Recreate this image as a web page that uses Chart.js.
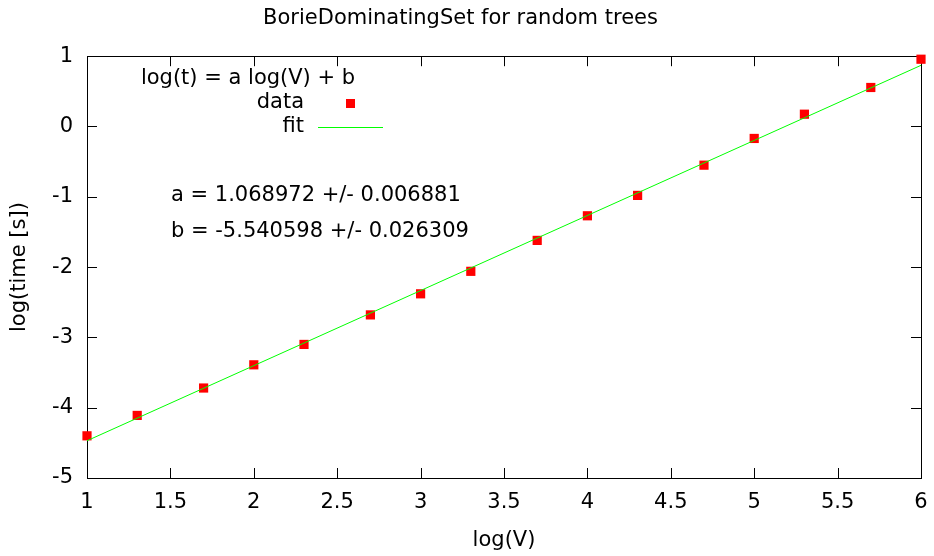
<!DOCTYPE html>
<html>
<head>
<meta charset="utf-8">
<script src="https://cdn.jsdelivr.net/npm/chart.js@4/dist/chart.umd.min.js"></script>
<style>
  body { margin: 0; background: #fff; }
  #wrap { width: 934px; height: 556px; }
</style>
</head>
<body>
<div id="wrap"><canvas id="chart" width="934" height="556"></canvas></div>
<script>
const logV = [1, 1.301, 1.699, 2, 2.301, 2.699, 3, 3.301, 3.699, 4, 4.301, 4.699, 5, 5.301, 5.699, 6];
const logT = [-4.40, -4.11, -3.72, -3.39, -3.10, -2.68, -2.38, -2.06, -1.62, -1.27, -0.98, -0.55, -0.17, 0.175, 0.555, 0.957];
const fitX = [1, 6];
const fitY = [-4.47, 0.87];
const fitText = ['a = 1.068972 +/- 0.006881', 'b = -5.540598 +/- 0.026309'];

const FONT = '"DejaVu Sans", sans-serif';
const FS = 21;

// gnuplot-like frame with inward ticks on all sides
const framePlugin = {
  id: 'frame',
  beforeDatasetsDraw(chart) {
    const { ctx, chartArea: a, scales: { x, y } } = chart;
    ctx.save();
    ctx.strokeStyle = '#000';
    ctx.lineWidth = 1;
    ctx.beginPath();
    x.ticks.forEach(t => {
      const px = Math.round(x.getPixelForValue(t.value)) + 0.5;
      ctx.moveTo(px, a.bottom); ctx.lineTo(px, a.bottom - 10);
      ctx.moveTo(px, a.top); ctx.lineTo(px, a.top + 10);
    });
    y.ticks.forEach(t => {
      const py = Math.round(y.getPixelForValue(t.value)) + 0.5;
      ctx.moveTo(a.left, py); ctx.lineTo(a.left + 10, py);
      ctx.moveTo(a.right, py); ctx.lineTo(a.right - 10, py);
    });
    ctx.stroke();
    ctx.strokeRect(Math.round(a.left) + 0.5, Math.round(a.top) + 0.5,
      Math.round(a.right - a.left), Math.round(a.bottom - a.top));
    ctx.restore();
  },
  afterDraw(chart) {
    const { ctx } = chart;
    ctx.save();
    ctx.font = FS + 'px ' + FONT;
    ctx.fillStyle = '#000';
    ctx.textBaseline = 'middle';
    ctx.textAlign = 'center';
    ctx.fillText('log(t) = a log(V) + b', 248, 79);
    ctx.textAlign = 'right';
    ctx.fillText('data', 304, 103);
    ctx.fillText('fit', 304, 127);
    ctx.fillStyle = '#ff0000';
    ctx.fillRect(346, 99, 9, 9);
    ctx.strokeStyle = '#00ff00';
    ctx.lineWidth = 1;
    ctx.beginPath();
    ctx.moveTo(318, 127.5); ctx.lineTo(383, 127.5);
    ctx.stroke();
    ctx.fillStyle = '#000';
    ctx.textAlign = 'left';
    ctx.fillText(fitText[0], 171, 196);
    ctx.fillText(fitText[1], 171, 232);
    ctx.restore();
  }
};

new Chart(document.getElementById('chart').getContext('2d'), {
  type: 'scatter',
  data: {
    datasets: [{
      label: 'fit',
      data: fitX.map((v, i) => ({ x: v, y: fitY[i] })),
      showLine: true,
      borderColor: '#00ff00',
      borderWidth: 1,
      pointRadius: 0,
      order: 0
    }, {
      label: 'data',
      data: logV.map((v, i) => ({ x: v, y: logT[i] })),
      pointStyle: 'rect',
      pointRadius: 6.5,
      pointBorderWidth: 0,
      backgroundColor: '#ff0000',
      borderColor: '#ff0000',
      clip: false,
      order: 1
    }]
  },
  options: {
    responsive: false,
    animation: false,
    layout: { padding: { left: 0, right: 13, top: 0, bottom: 0 } },
    plugins: {
      legend: { display: false },
      tooltip: { enabled: false },
      title: {
        display: true,
        text: 'BorieDominatingSet for random trees',
        color: '#000',
        font: { family: FONT, size: FS, weight: 'normal', lineHeight: 1.2 },
        padding: { top: 6, bottom: 25 }
      }
    },
    scales: {
      x: {
        type: 'linear', min: 1, max: 6,
        afterFit: s => { s.height = 78; s.paddingLeft = 0; s.paddingRight = 0; },
        grid: { display: false, drawTicks: false },
        border: { display: false },
        ticks: { stepSize: 0.5, padding: 12, color: '#000', font: { family: FONT, size: FS }, maxRotation: 0,
          callback: v => String(v) },
        title: { display: true, text: 'log(V)', color: '#000', font: { family: FONT, size: FS, lineHeight: 1.2 }, padding: { top: 0, bottom: 3 } }
      },
      y: {
        type: 'linear', min: -5, max: 1,
        afterFit: s => { s.width = 87; s.paddingTop = 0; s.paddingBottom = 0; },
        grid: { display: false, drawTicks: false },
        border: { display: false },
        ticks: { stepSize: 1, padding: 14, color: '#000', font: { family: FONT, size: FS } },
        title: { display: true, text: 'log(time [s])', color: '#000', font: { family: FONT, size: FS, lineHeight: 1.2 }, padding: { top: 7, bottom: 0 } }
      }
    }
  },
  plugins: [framePlugin]
});
</script>
</body>
</html>
